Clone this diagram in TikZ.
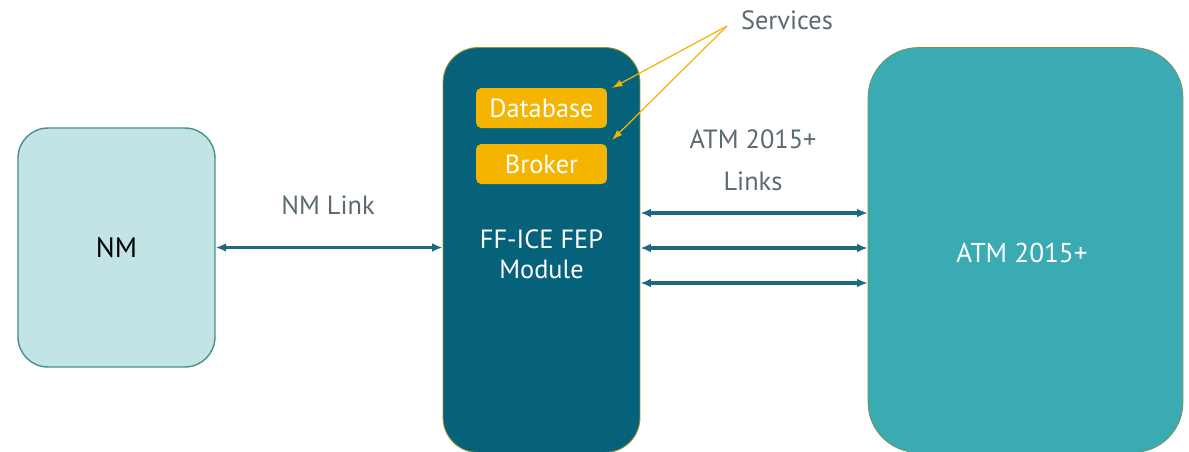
\documentclass[tikz,border=0pt]{standalone}
\usepackage{fontspec}
\setmainfont{PT Sans}
\usetikzlibrary{arrows.meta,positioning}

\definecolor{nmfill}{HTML}{C2E4E4}
\definecolor{nmline}{HTML}{4A8E92}
\definecolor{fepfill}{HTML}{05627A}
\definecolor{atmfill}{HTML}{3AABB3}
\definecolor{gold}{HTML}{F5B400}
\definecolor{linkcol}{HTML}{1D6A7A}
\definecolor{txtgray}{HTML}{5A6A70}

\tikzset{
  block/.style={inner sep=0pt, minimum width=3.94cm},
  service/.style={fill=gold, rounded corners=3pt, minimum width=2.62cm, minimum height=0.8cm,
    inner sep=0pt, text=white, font=\fontsize{15}{18}\selectfont},
  link/.style={draw=linkcol, line width=1.8pt, {Latex[length=6pt,width=5pt]}-{Latex[length=6pt,width=5pt]}},
  pointer/.style={draw=gold, line width=0.7pt, -{Latex[length=6pt,width=4pt]}},
  caption/.style={text=txtgray, font=\fontsize{15}{18}\selectfont, align=center}
}

\begin{document}
\begin{tikzpicture}[x=0.02cm, y=-0.02cm]
    \useasboundingbox (0,0) rectangle (1189,451);

    % NM
    \node[block, minimum height=4.78cm, fill=nmfill, draw=nmline, line width=0.8pt,
      rounded corners=0.6cm] (nm) at (116.5,247.5) {};
    \node[font=\fontsize{16}{19}\selectfont] (nmtext) at (nm) {NM};

    % FEP module
    \node[block, minimum height=8.1cm, fill=fepfill, draw=gold!60!fepfill, line width=0.5pt,
      rounded corners=0.7cm] (fep) at (541.5,250) {};
    \node[service] (db) at (541.5,108) {Database};
    \node[service] (broker) at (541.5,164) {Broker};
    \node[text=white, font=\fontsize{15}{18}\selectfont, align=center] (feptext) at (541.5,254)
      {FF-ICE FEP\\[-1pt]Module};

    % ATM 2015+
    \node[inner sep=0pt, minimum width=6.3cm, minimum height=8.1cm, fill=atmfill,
      draw=atmfill!70!black!60!gold, line width=0.4pt, rounded corners=1cm] (atm) at (1025.5,250) {};
    \node[text=white, font=\fontsize{15.5}{18}\selectfont] (atmtext) at (1022,253) {ATM 2015+};

    % Links
    \draw[link] (nm.east) -- (nm.east -| fep.west);
    \node[caption] (nmlink) at (328,205) {NM Link};
    \foreach \dy in {0.74,0.04,-0.66}
      \draw[link] ([yshift=\dy cm]fep.east) -- ([yshift=\dy cm]atm.west);
    \node[caption] (atmlinks) at (753,160) {ATM 2015+\\[6pt]Links};

    % Services
    \node[caption] (services) at (787,20) {Services};
    \coordinate (src) at (727,26);
    \coordinate (dbtip) at (612,88);
    \coordinate (brtip) at (612,140);
    \draw[pointer] (src) -- (dbtip);
    \draw[pointer] (src) -- (brtip);
\end{tikzpicture}
\end{document}
